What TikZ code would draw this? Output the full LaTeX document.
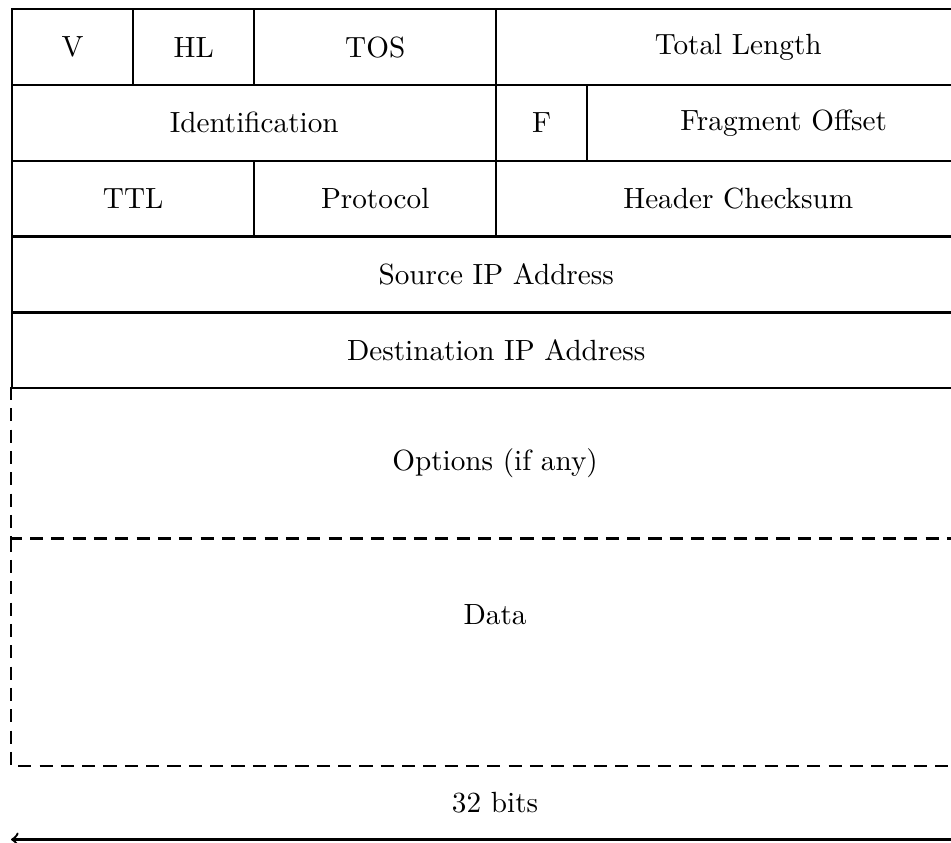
\documentclass[tikz,border=0pt]{standalone}
\begin{document}
\begin{tikzpicture}[x=0.364cm, y=0.912cm,
    field/.style={draw, thick, minimum height=0.912cm, minimum width=#1*0.364cm, inner sep=0pt, anchor=north west},
    optional/.style={thick, dash pattern=on 4.5pt off 2.8pt}]
    \useasboundingbox (-0.364, 0.105) rectangle (31.07, -11.01);
    % Fixed header rows
    \node[field=4] (ver) at (0,0) {V};
    \node[field=4] (hl) at (4,0) {HL};
    \node[field=8] (tos) at (8,0) {TOS};
    \node[field=16] (len) at (16,0) {Total Length};
    \node[field=16] (ident) at (0,-1) {Identification};
    \node[field=3] (flags) at (16,-1) {F};
    \node[field=13] (frag) at (19,-1) {Fragment Offset};
    \node[field=8] (ttl) at (0,-2) {TTL};
    \node[field=8] (proto) at (8,-2) {Protocol};
    \node[field=16] (csum) at (16,-2) {Header Checksum};
    \node[field=32] (src) at (0,-3) {Source IP Address};
    \node[field=32] (dst) at (0,-4) {Destination IP Address};
    
    % Optional part and payload
    \draw[optional] (0,-5) -- (0,-7) -- (32,-7) -- (32,-5);
    \node (opts) at (16,-6) {Options (if any)};
    \draw[optional] (0,-7) -- (0,-10) -- (32,-10) -- (32,-7);
    \node (data) at (16,-8) {Data};
    
    % Width
    \node (bits) at (16,-10.49) {32 bits};
    \coordinate (wl) at (0,-10.97);
    \coordinate (wr) at (32,-10.97);
    \draw[thick, <->] (wl) -- (wr);
\end{tikzpicture}
\end{document}
